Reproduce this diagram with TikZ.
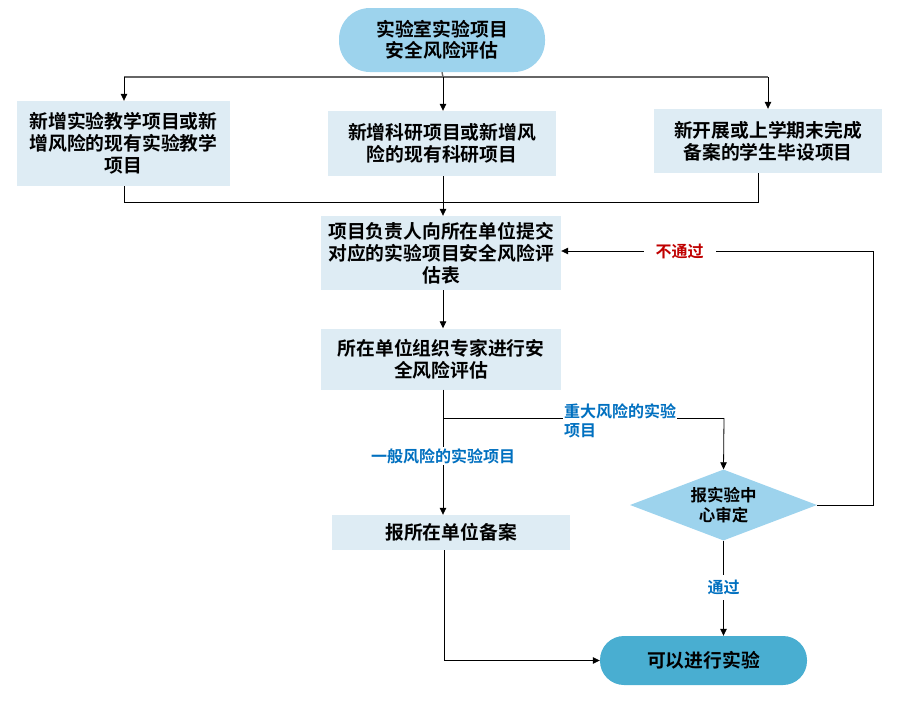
\documentclass[tikz,border=0pt]{standalone}
\usepackage{fontspec}
\setmainfont{Noto Sans CJK SC}[BoldFont={Noto Sans CJK SC Bold}]
\usetikzlibrary{arrows.meta,shapes.geometric}
\definecolor{topfill}{RGB}{157,211,237}
\definecolor{boxfill}{RGB}{222,236,244}
\definecolor{endfill}{RGB}{73,174,209}
\definecolor{lblue}{RGB}{0,112,192}
\definecolor{lred}{RGB}{192,0,0}
\tikzset{
  stepbox/.style={fill=boxfill,draw=none,inner sep=0pt,align=center,
    font=\fontsize{18.8}{22}\selectfont\bfseries},
  term/.style={fill=topfill,draw=none,rounded corners=31pt,inner sep=0pt,align=center,
    font=\fontsize{18.8}{21}\selectfont\bfseries},
  decide/.style={diamond,fill=topfill,draw=none,inner sep=0pt,shape aspect=2.6,align=center,
    font=\fontsize{16.5}{20}\selectfont\bfseries},
  lbl/.style={fill=white,inner sep=1pt,font=\fontsize{16}{19}\selectfont\bfseries},
  conn/.style={draw=black,line width=0.8pt},
  arr/.style={conn,-{Triangle[length=7pt,width=6.5pt]}},
}
\begin{document}
\begin{tikzpicture}[x=1pt,y=-1pt]
\useasboundingbox (0,0) rectangle (898,704);
% nodes
\node[term,minimum width=206pt,minimum height=64pt] (top) at (442,40) {实验室实验项目\\安全风险评估};
\node[stepbox,minimum width=213pt,minimum height=85pt] (b1) at (123.5,143.5) {新增实验教学项目或新\\增风险的现有实验教学\\项目};
\node[stepbox,minimum width=228pt,minimum height=65pt] (b2) at (442,143.5) {新增科研项目或新增风\\险的现有科研项目};
\node[stepbox,minimum width=228pt,minimum height=64pt] (b3) at (768,141) {新开展或上学期末完成\\备案的学生毕设项目};
\node[stepbox,minimum width=240pt,minimum height=74pt] (b4) at (441,253) {项目负责人向所在单位提交\\对应的实验项目安全风险评\\估表};
\node[stepbox,minimum width=240pt,minimum height=61pt] (b5) at (441,359) {所在单位组织专家进行安\\全风险评估};
\node[stepbox,minimum width=238pt,minimum height=35pt] (b6) at (451,532.5) {报所在单位备案};
\node[decide,minimum width=187pt,minimum height=71pt] (dec) at (723.5,505) {报实验中\\心审定};
\node[term,fill=endfill,rounded corners=24pt,minimum width=207pt,minimum height=49pt] (fin) at (703.5,660.5) {可以进行实验};
% coordinates
\coordinate (hl) at (124,77);
\coordinate (hm) at (443,77);
\coordinate (hr) at (768,77);
\coordinate (ml) at (124,202);
\coordinate (mr) at (758,202);
\coordinate (br) at (443,418);
\coordinate (bk) at (724,418);
\coordinate (rt) at (873,505);
\coordinate (rb) at (873,251);
\coordinate (lb) at (444,550);
% top distribution
\draw[conn,draw=gray!80!black,line width=1.4pt] (hl) -- (hr);
\draw[conn,draw=gray!80!black,line width=1.4pt] (top.south) -- (hm);
\draw[arr] (hl) -- (hl |- b1.north);
\draw[arr] (hm) -- (hm |- b2.north);
\draw[arr] (hr) -- (hr |- b3.north);
% merge
\draw[conn] (b1.south -| ml) -- (ml) -- (mr) -- (mr |- b3.south);
\draw[arr] (b2.south -| hm) -- (hm |- b4.north);
\draw[arr] (b4.south -| hm) -- (hm |- b5.north);
% branches
\draw[arr] (b5.south -| br) -- (br |- b6.north) node[lbl,pos=0.53,text=lblue] (lg) {一般风险的实验项目};
\draw[conn] (br) -- (bk);
\draw[arr] (bk) -- (dec.north);
\node[lbl,text=lblue,align=left] (lz) at (620,421) {重大风险的实验\\项目};
% reject loop
\draw[arr] (dec.east) -- (rt) -- (rb) -- (b4.east |- rb) node[lbl,pos=0.62,text=lred,inner xsep=12pt] (lr) {不通过};
% pass
\draw[arr] (dec.south) -- (dec.south |- fin.north) node[lbl,pos=0.49,text=lblue,inner ysep=5pt] (lp) {通过};
\draw[arr] (lb) |- (fin.west);
\end{tikzpicture}
\end{document}
